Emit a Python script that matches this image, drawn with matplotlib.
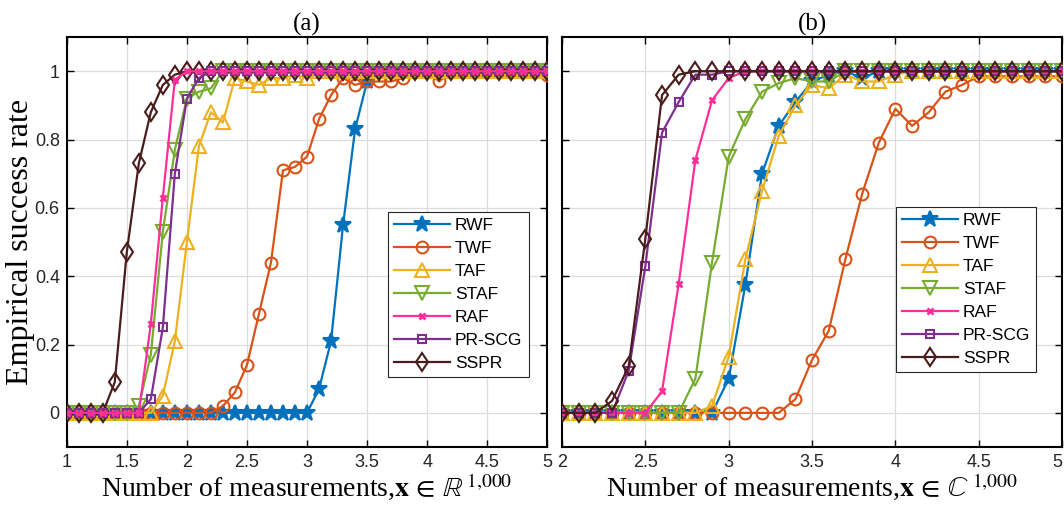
import numpy as np
import matplotlib
matplotlib.use('Agg')
import matplotlib.pyplot as plt

plt.rcParams['mathtext.fontset'] = 'stix'

names = ['RWF', 'TWF', 'TAF', 'STAF', 'RAF', 'PR-SCG', 'SSPR']
colors = ['#0072BD', '#D95319', '#EDB120', '#77AC30', '#FF2E98', '#7E2F8E', '#4A1C1C']
markers = ['*', 'o', '^', 'v', 'x', 's', 'd']
msizes = [12, 8.5, 9.5, 9.5, 5, 5.5, 9.5]

# (a) real case, m/n from 1 to 5
x_a = np.round(np.arange(1.0, 5.01, 0.1), 1)
rwf_a = [0] * 21 + [0.07, 0.21, 0.55, 0.83, 0.97] + [1.0] * 15
twf_a = [0] * 13 + [0.02, 0.06, 0.14, 0.29, 0.44, 0.71, 0.72, 0.75, 0.86, 0.93,
                    0.98, 0.96, 0.97, 0.97, 0.97, 0.98, 1.0, 1.0, 0.97] + [1.0] * 8 + [0.99]
taf_a = [0] * 8 + [0.05, 0.21, 0.50, 0.78, 0.88, 0.85, 0.98, 0.97, 0.96, 0.98,
                   0.98, 0.99, 0.98] + [1.0] * 20
staf_a = [0] * 6 + [0.02, 0.17, 0.53, 0.77, 0.92, 0.94, 0.95] + [1.0] * 28
raf_a = [0] * 7 + [0.26, 0.63, 0.975] + [1.0] * 31
prscg_a = [0] * 7 + [0.04, 0.25, 0.70, 0.92, 0.98] + [1.0] * 29
sspr_a = [0] * 4 + [0.09, 0.47, 0.73, 0.88, 0.96, 0.99] + [1.0] * 31

# (b) complex case, m/n from 2 to 5
x_b = np.round(np.arange(2.0, 5.01, 0.1), 1)
rwf_b = [0] * 10 + [0.10, 0.375, 0.70, 0.84, 0.91, 0.97, 0.99, 1.0, 0.98, 1.0] + [1.0] * 11
twf_b = [0] * 14 + [0.04, 0.155, 0.24, 0.45, 0.64, 0.79, 0.89, 0.84, 0.88, 0.94,
                    0.96, 0.985, 0.985, 0.985, 0.985, 0.985, 0.985]
taf_b = [0] * 9 + [0.02, 0.165, 0.45, 0.65, 0.81, 0.90, 0.96, 0.95, 0.99, 0.97,
                   0.97, 0.99] + [1.0] * 10
staf_b = [0] * 8 + [0.10, 0.44, 0.75, 0.86, 0.94, 0.965, 0.98, 0.97, 0.97] + [1.0] * 14
raf_b = [0] * 6 + [0.063, 0.378, 0.74, 0.915, 0.98] + [1.0] * 20
prscg_b = [0] * 4 + [0.123, 0.43, 0.82, 0.91, 0.99, 0.99] + [1.0] * 21
sspr_b = [0] * 3 + [0.035, 0.136, 0.51, 0.93, 0.99] + [1.0] * 23

data_a = [rwf_a, twf_a, taf_a, staf_a, raf_a, prscg_a, sspr_a]
data_b = [rwf_b, twf_b, taf_b, staf_b, raf_b, prscg_b, sspr_b]

fig = plt.figure(figsize=(10.64, 5.08), dpi=100)
ax1 = fig.add_axes([0.0627, 0.120, 0.4517, 0.807])
ax2 = fig.add_axes([0.5282, 0.120, 0.4700, 0.807])

order_a = [0, 1, 2, 3, 6, 5, 4]
order_b = [0, 1, 2, 3, 4, 5, 6]

for ax, xs, data, order in [(ax1, x_a, data_a, order_a), (ax2, x_b, data_b, order_b)]:
    for z, i in enumerate(order):
        filled = markers[i] == '*'
        ax.plot(xs, data[i], color=colors[i], marker=markers[i], ms=msizes[i],
                mfc=colors[i] if filled else 'none', mec=colors[i],
                mew=2 if markers[i] == 'x' else 1.5, lw=1.6, label=names[i], zorder=3 + z)
    ax.set_ylim(-0.1, 1.1)
    ax.set_yticks([0, 0.2, 0.4, 0.6, 0.8, 1])
    ax.grid(True, color='#DDDDDD', lw=0.9)
    ax.set_axisbelow(True)
    ax.tick_params(direction='in', top=True, right=True, length=5, width=1,
                   labelsize=13, labelcolor='#262626', pad=5)
    for sp in ax.spines.values():
        sp.set_linewidth(1.5)

ax1.set_xlim(1, 5)
ax1.set_xticks([1, 1.5, 2, 2.5, 3, 3.5, 4, 4.5, 5])
ax1.set_xticklabels(['1', '1.5', '2', '2.5', '3', '3.5', '4', '4.5', '5'], family='Liberation Sans')
ax1.set_yticklabels(['0', '0.2', '0.4', '0.6', '0.8', '1'], family='Liberation Sans')
ax2.set_xlim(2, 5)
ax2.set_xticks([2, 2.5, 3, 3.5, 4, 4.5, 5])
ax2.set_xticklabels(['2', '2.5', '3', '3.5', '4', '4.5', '5'], family='Liberation Sans')
ax2.get_xticklabels()[-1].set_horizontalalignment('right')
ax2.set_yticklabels([])

serif = 'Liberation Serif'
ax1.set_title('(a)', family=serif, fontsize=18, pad=5)
ax2.set_title('(b)', family=serif, fontsize=18, pad=5)
ax1.set_ylabel('Empirical success rate', family=serif, fontsize=23, labelpad=0)
ax1.set_xlabel(r'Number of measurements,$\mathbf{x}\,\in\,\mathbb{R}^{\,1{,}000}$',
               family=serif, fontsize=20, labelpad=0)
ax2.set_xlabel(r'Number of measurements,$\mathbf{x}\,\in\,\mathbb{C}^{\,1{,}000}$',
               family=serif, fontsize=20, labelpad=0)

for ax, anchor in [(ax1, (0.669, 0.573)), (ax2, (0.668, 0.585))]:
    h, l = ax.get_legend_handles_labels()
    idx = [l.index(n) for n in names]
    leg = ax.legend([h[k] for k in idx], [l[k] for k in idx], loc='upper left',
                    bbox_to_anchor=anchor, borderaxespad=0, fancybox=False,
                    edgecolor='#262626', framealpha=1, handlelength=3.2,
                    labelspacing=0.45, borderpad=0.35, handletextpad=0.3,
                    prop={'family': 'Liberation Sans', 'size': 12.5})
    leg.get_frame().set_linewidth(0.8)

fig.savefig('out.png', dpi=100)
